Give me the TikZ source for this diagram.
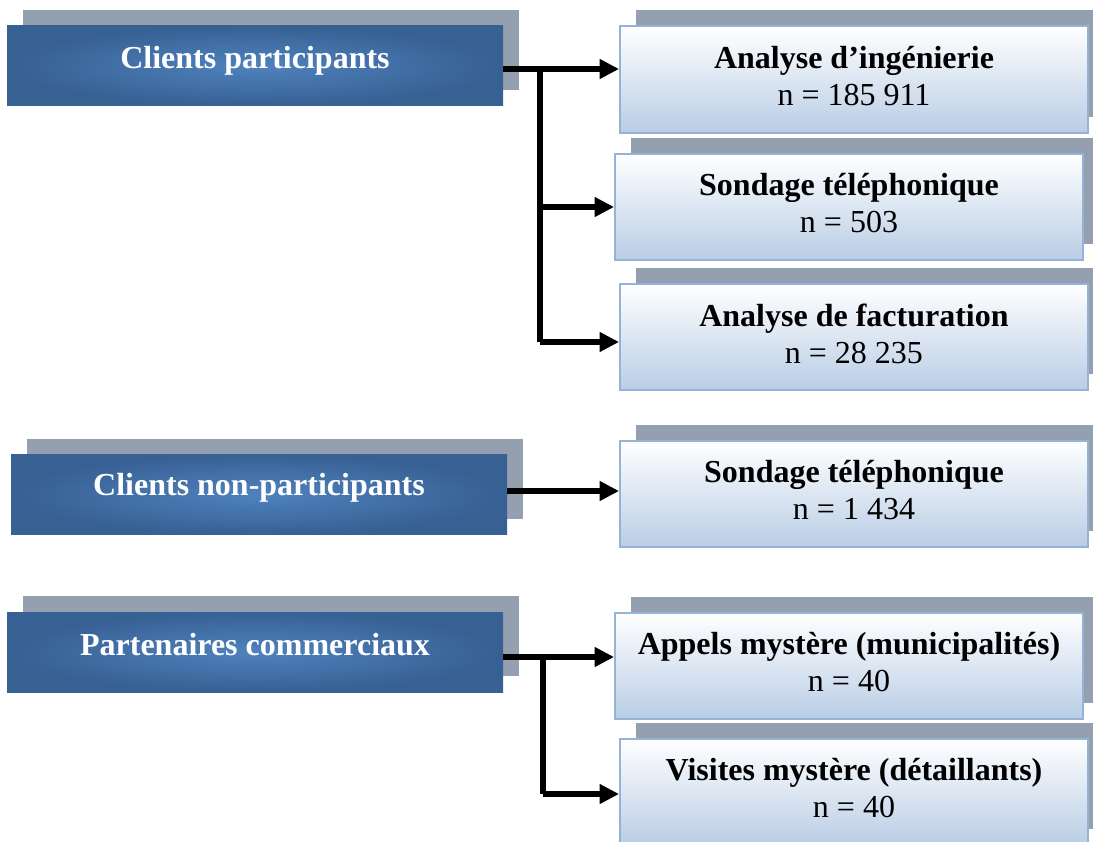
\documentclass[tikz,border=0pt]{standalone}
\usepackage{fontspec}
\setmainfont{Liberation Serif}
\usetikzlibrary{arrows.meta,shadows}
\definecolor{bdark}{HTML}{376093}
\definecolor{blight}{HTML}{4F82BE}
\definecolor{shgray}{HTML}{94A0B0}
\definecolor{rborder}{HTML}{95B3D7}
\definecolor{rbottom}{HTML}{B9CDE5}
\newcommand{\lowstrut}{\rule[-5.5pt]{0pt}{5.5pt}}
\tikzset{
  leftbox/.style={rectangle, minimum width=372pt, minimum height=60pt, inner sep=0pt,
    inner color=blight, outer color=bdark,
    general shadow={fill=shgray, shadow xshift=12pt, shadow yshift=12pt}},
  lefttext/.style={text=white, font=\fontsize{24}{28}\selectfont\bfseries, inner sep=0pt},
  rightbox/.style={rectangle, minimum width=351pt, minimum height=80pt, inner sep=0pt,
    draw=rborder, line width=1.4pt, top color=white, bottom color=rbottom, align=center,
    font=\fontsize{24}{27.75}\selectfont,
    general shadow={fill=shgray, shadow xshift=12pt, shadow yshift=12pt}},
  link/.style={line width=4.2pt, draw=black},
  arrowlink/.style={link, -{Triangle[length=14.5pt,width=14pt]}}
}
\begin{document}
\begin{tikzpicture}[x=0.75pt,y=-0.75pt]
\useasboundingbox (0,0) rectangle (1093,842);
\clip (0,0) rectangle (1093,842);
% left boxes
\node[leftbox] (cp) at (255,66) {};
\node[lefttext] (cpt) at ([yshift=4pt]cp.center) {Clients participants};
\node[leftbox] (cnp) at (259,494.5) {};
\node[lefttext] (cnpt) at ([yshift=4.8pt]cnp.center) {Clients non-participants};
\node[leftbox] (pc) at (255,652) {};
\node[lefttext] (pct) at ([yshift=5.2pt]pc.center) {Partenaires commerciaux};
% right boxes
\node[rightbox] (ai) at (854,79.5) {\textbf{Analyse d’ingénierie}\\n = 185 911\lowstrut};
\node[rightbox] (st1) at (849,207) {\textbf{Sondage téléphonique}\\n = 503\lowstrut};
\node[rightbox] (af) at (854,337) {\textbf{Analyse de facturation}\\n = 28 235\lowstrut};
\node[rightbox] (st2) at (854,494) {\textbf{Sondage téléphonique}\\n = 1 434\lowstrut};
\node[rightbox] (am) at (849,666) {\textbf{Appels mystère (municipalités)}\\n = 40\lowstrut};
\node[rightbox] (vm) at (854,792) {\textbf{Visites mystère (détaillants)}\\n = 40\lowstrut};
% connectors
\coordinate (j1) at (540,69);
\coordinate (j1b) at (540,342);
\draw[arrowlink] (cp.east |- j1) -- (ai.west |- j1);
\draw[link] (j1) -- (j1b);
\draw[arrowlink] (j1 |- st1.west) -- (st1.west);
\draw[arrowlink] (j1b) -- (af.west |- j1b);
\coordinate (j2) at (560,491);
\draw[arrowlink] (cnp.east |- j2) -- (st2.west |- j2);
\coordinate (j3) at (543,657);
\coordinate (j3b) at (543,794);
\draw[arrowlink] (pc.east |- j3) -- (am.west |- j3);
\draw[link] (j3) -- (j3b);
\draw[arrowlink] (j3b) -- (vm.west |- j3b);
\end{tikzpicture}
\end{document}
